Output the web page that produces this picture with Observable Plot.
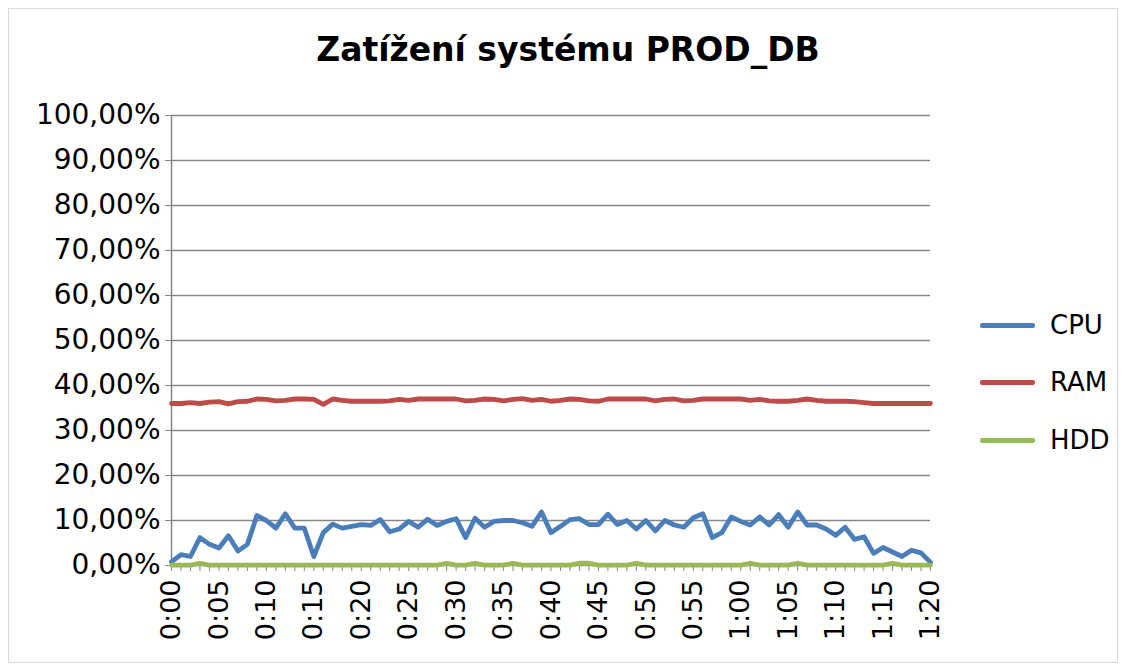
<!DOCTYPE html>
<html>
<head>
<meta charset="utf-8">
<script src="https://cdn.jsdelivr.net/npm/d3@7"></script>
<script src="https://cdn.jsdelivr.net/npm/@observablehq/plot@0.6"></script>
<style>
  html, body { margin: 0; padding: 0; background: #fff; }
  #wrap { position: relative; width: 1124px; height: 670px; overflow: hidden; font-family: "DejaVu Sans", sans-serif; }
  #frame { position: absolute; left: 8px; top: 8px; width: 1110px; height: 655px; border: 1px solid #d9d9d9; box-sizing: border-box; }
  #title { position: absolute; left: 0; top: 0; width: 1136px; height: 90px; text-align: center; font-weight: bold; font-size: 33px; line-height: 1; padding-top: 33px; box-sizing: border-box; color: #000; }
  #chart { position: absolute; left: 0; top: 90px; }
  #legend { position: absolute; left: 980px; top: 0; }
  .item { position: absolute; left: 0; width: 140px; height: 30px; }
  .sw { position: absolute; left: 0; top: 13px; width: 55px; height: 5px; border-radius: 2px; }
  .lb { position: absolute; left: 70px; top: 0; font-size: 26px; line-height: 30px; color: #000; }
  #chart svg g[aria-label="y-axis tick label"] { font-size: 28px; }
</style>
</head>
<body>
<div id="wrap">
  <div id="frame"></div>
  <div id="title">Zatížení systému PROD_DB</div>
  <div id="chart"></div>
  <div id="legend"></div>
</div>
<script>
const times = [
  "0:00","0:01","0:02","0:03","0:04","0:05","0:06","0:07","0:08","0:09",
  "0:10","0:11","0:12","0:13","0:14","0:15","0:16","0:17","0:18","0:19",
  "0:20","0:21","0:22","0:23","0:24","0:25","0:26","0:27","0:28","0:29",
  "0:30","0:31","0:32","0:33","0:34","0:35","0:36","0:37","0:38","0:39",
  "0:40","0:41","0:42","0:43","0:44","0:45","0:46","0:47","0:48","0:49",
  "0:50","0:51","0:52","0:53","0:54","0:55","0:56","0:57","0:58","0:59",
  "1:00","1:01","1:02","1:03","1:04","1:05","1:06","1:07","1:08","1:09",
  "1:10","1:11","1:12","1:13","1:14","1:15","1:16","1:17","1:18","1:19",
  "1:20"
];
const labeledTimes = ["0:00","0:05","0:10","0:15","0:20","0:25","0:30","0:35","0:40","0:45","0:50","0:55","1:00","1:05","1:10","1:15","1:20"];

const cpu = [
  0.8, 2.4, 2.0, 6.2, 4.7, 3.9, 6.6, 3.2, 4.7, 11.1,
  10.0, 8.3, 11.5, 8.3, 8.3, 2.0, 7.3, 9.2, 8.3, 8.7,
  9.1, 8.9, 10.2, 7.5, 8.1, 9.8, 8.5, 10.3, 8.9, 9.8,
  10.4, 6.2, 10.5, 8.5, 9.8, 10.0, 10.0, 9.5, 8.7, 11.9,
  7.3, 8.7, 10.2, 10.4, 9.1, 9.1, 11.4, 9.1, 10.0, 8.1,
  10.0, 7.7, 10.0, 9.0, 8.5, 10.6, 11.5, 6.2, 7.3, 10.8,
  9.8, 9.0, 10.8, 9.0, 11.3, 8.5, 11.9, 9.0, 9.0, 8.1,
  6.7, 8.5, 5.8, 6.4, 2.7, 4.0, 3.0, 2.0, 3.4, 2.8,
  0.7
];
const ram = [
  36.0, 36.0, 36.2, 36.0, 36.3, 36.4, 35.9, 36.4, 36.5, 37.0,
  36.9, 36.6, 36.7, 37.0, 37.0, 36.9, 35.8, 37.0, 36.7, 36.5,
  36.5, 36.5, 36.5, 36.6, 36.9, 36.7, 37.0, 37.0, 37.0, 37.0,
  37.0, 36.6, 36.7, 37.0, 36.9, 36.6, 36.9, 37.1, 36.7, 36.9,
  36.5, 36.7, 37.0, 36.9, 36.6, 36.5, 37.0, 37.0, 37.0, 37.0,
  37.0, 36.6, 36.9, 37.0, 36.6, 36.7, 37.0, 37.0, 37.0, 37.0,
  37.0, 36.7, 36.9, 36.6, 36.5, 36.5, 36.7, 37.0, 36.7, 36.5,
  36.5, 36.5, 36.4, 36.2, 36.0, 36.0, 36.0, 36.0, 36.0, 36.0,
  36.0
];
const hdd = [
  0.1, 0.1, 0.1, 0.5, 0.1, 0.1, 0.1, 0.1, 0.1, 0.1,
  0.1, 0.1, 0.1, 0.1, 0.1, 0.1, 0.1, 0.1, 0.1, 0.1,
  0.1, 0.1, 0.1, 0.1, 0.1, 0.1, 0.1, 0.1, 0.1, 0.5,
  0.1, 0.1, 0.5, 0.1, 0.1, 0.1, 0.5, 0.1, 0.1, 0.1,
  0.1, 0.1, 0.1, 0.5, 0.5, 0.1, 0.1, 0.1, 0.1, 0.5,
  0.1, 0.1, 0.1, 0.1, 0.1, 0.1, 0.1, 0.1, 0.1, 0.1,
  0.1, 0.5, 0.1, 0.1, 0.1, 0.1, 0.5, 0.1, 0.1, 0.1,
  0.1, 0.1, 0.1, 0.1, 0.1, 0.1, 0.5, 0.1, 0.1, 0.1,
  0.1
];
const yTicks = [0, 10, 20, 30, 40, 50, 60, 70, 80, 90, 100];
const seriesNames = ["CPU", "RAM", "HDD"];
const seriesColors = ["#4a7ebb", "#be4b48", "#98b954"];

const seriesValues = [cpu, ram, hdd];
const rows = [];
seriesNames.forEach((name, s) => {
  times.forEach((t, i) => rows.push({series: name, time: t, value: seriesValues[s][i]}));
});

const axisColor = "#868686";
const chart = Plot.plot({
  width: 1124,
  height: 580,
  marginLeft: 171,
  marginRight: 194,
  marginTop: 25,
  marginBottom: 105,
  style: {fontFamily: "DejaVu Sans, sans-serif", fontSize: "27px", color: "#000", background: "transparent"},
  x: {type: "point", domain: times, padding: 0, label: null},
  y: {domain: [0, 100], label: null},
  color: {domain: seriesNames, range: seriesColors},
  marks: [
    Plot.gridY(yTicks.slice(1), {stroke: axisColor, strokeOpacity: 1, strokeWidth: 1.3}),
    Plot.ruleX([times[0]], {y1: 0, y2: 100, stroke: axisColor, strokeWidth: 1.5}),
    Plot.ruleY([0], {stroke: axisColor, strokeWidth: 1.5}),
    Plot.axisY({ticks: yTicks, tickSize: 6, tickPadding: 5, stroke: axisColor, fill: "#000",
      tickFormat: d => d.toFixed(2).replace(".", ",") + "%", label: null}),
    Plot.axisX({ticks: times, tickSize: 6, tickPadding: 8, tickRotate: -90, stroke: axisColor, fill: "#000",
      tickFormat: d => labeledTimes.includes(d) ? d : "", label: null}),
    Plot.line(rows.filter(r => r.series === "CPU"), {x: "time", y: "value", stroke: "series", strokeWidth: 4.8, strokeLinejoin: "round", strokeLinecap: "round"}),
    Plot.line(rows.filter(r => r.series === "RAM"), {x: "time", y: "value", stroke: "series", strokeWidth: 4.8, strokeLinejoin: "round", strokeLinecap: "round"}),
    Plot.line(rows.filter(r => r.series === "HDD"), {x: "time", y: "value", stroke: "series", strokeWidth: 4.8, strokeLinejoin: "round", strokeLinecap: "round"})
  ]
});
document.getElementById("chart").appendChild(chart);

const legend = document.getElementById("legend");
const legendTops = [310, 367, 425];
seriesNames.forEach((name, i) => {
  const item = document.createElement("div");
  item.className = "item";
  item.style.top = legendTops[i] + "px";
  item.innerHTML = `<div class="sw" style="background:${seriesColors[i]}"></div><div class="lb">${name}</div>`;
  legend.appendChild(item);
});
</script>
</body>
</html>
